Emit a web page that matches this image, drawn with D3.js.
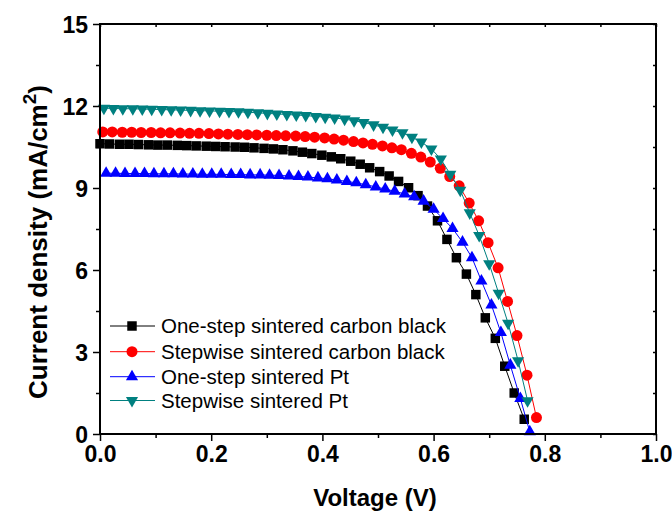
<!DOCTYPE html>
<html><head><meta charset="utf-8">
<script src="https://cdn.jsdelivr.net/npm/d3@7"></script>
<style>body{margin:0;background:#fff}svg{display:block}</style>
</head><body>
<svg id="chart" width="672" height="515"></svg>
<script>
// ---- data ----
const seriesNames = ["One-step sintered carbon black","Stepwise sintered carbon black","One-step sintered Pt","Stepwise sintered Pt"];
const seriesColors = ["#000000","#ff0000","#0000ff","#008080"];

const vOneStepCB = [0.000,0.017,0.035,0.052,0.069,0.087,0.104,0.121,0.139,0.156,0.173,0.191,0.208,0.225,0.243,0.260,0.277,0.295,0.312,0.329,0.347,0.364,0.381,0.399,0.416,0.433,0.451,0.468,0.485,0.503,0.520,0.537,0.555,0.572,0.589,0.607,0.624,0.641,0.659,0.676,0.693,0.711,0.728,0.745,0.763];
const jOneStepCB = [10.62,10.61,10.60,10.60,10.59,10.58,10.57,10.57,10.56,10.55,10.54,10.53,10.52,10.51,10.50,10.49,10.47,10.45,10.43,10.40,10.36,10.31,10.26,10.20,10.14,10.07,9.98,9.87,9.74,9.60,9.44,9.24,9.01,8.72,8.34,7.80,7.12,6.45,5.85,5.10,4.25,3.50,2.48,1.50,0.54];

const vStepwiseCB = [0.005,0.022,0.040,0.057,0.074,0.092,0.109,0.126,0.144,0.161,0.178,0.196,0.213,0.230,0.248,0.265,0.282,0.300,0.317,0.334,0.352,0.369,0.386,0.404,0.421,0.438,0.456,0.473,0.490,0.508,0.525,0.542,0.560,0.577,0.594,0.612,0.629,0.646,0.664,0.681,0.698,0.716,0.733,0.750,0.768,0.785];
const jStepwiseCB = [11.05,11.05,11.04,11.04,11.03,11.03,11.02,11.02,11.01,11.00,11.00,10.99,10.98,10.97,10.96,10.95,10.94,10.93,10.92,10.91,10.90,10.88,10.86,10.83,10.79,10.75,10.70,10.65,10.60,10.54,10.47,10.40,10.27,10.13,9.95,9.72,9.42,9.08,8.45,7.80,7.00,6.08,4.85,3.60,2.15,0.60];

const vOneStepPt = [0.011,0.028,0.045,0.063,0.080,0.097,0.115,0.132,0.149,0.167,0.184,0.201,0.218,0.236,0.253,0.270,0.288,0.305,0.322,0.340,0.357,0.374,0.392,0.409,0.426,0.444,0.461,0.478,0.496,0.513,0.530,0.548,0.565,0.582,0.600,0.617,0.634,0.652,0.669,0.686,0.704,0.721,0.738,0.756,0.773];
const jOneStepPt = [9.54,9.54,9.53,9.53,9.53,9.52,9.52,9.52,9.51,9.51,9.50,9.50,9.50,9.49,9.49,9.48,9.48,9.47,9.46,9.44,9.42,9.40,9.37,9.34,9.29,9.24,9.19,9.12,9.04,8.96,8.88,8.78,8.68,8.52,8.22,7.88,7.52,7.02,6.45,5.60,4.72,3.71,2.52,1.30,0.08];

const vStepwisePt = [0.007,0.024,0.041,0.059,0.076,0.093,0.111,0.128,0.145,0.163,0.180,0.197,0.215,0.232,0.249,0.266,0.284,0.301,0.318,0.336,0.353,0.370,0.388,0.405,0.422,0.440,0.457,0.474,0.492,0.509,0.526,0.544,0.561,0.578,0.596,0.613,0.630,0.648,0.665,0.682,0.700,0.717,0.734,0.752,0.769];
const jStepwisePt = [11.92,11.91,11.90,11.90,11.89,11.88,11.87,11.86,11.85,11.84,11.83,11.82,11.81,11.80,11.79,11.77,11.75,11.73,11.71,11.69,11.67,11.65,11.62,11.59,11.56,11.52,11.46,11.40,11.31,11.22,11.12,11.02,10.86,10.68,10.43,10.06,9.50,8.92,8.09,7.26,6.23,5.15,4.05,2.68,1.22];

const xMajorTicks = [0,0.2,0.4,0.6,0.8,1.0];
const xMinorTicks = [0.1,0.3,0.5,0.7,0.9];
const yMajorTicks = [0,3,6,9,12,15];
const yMinorTicks = [1.5,4.5,7.5,10.5,13.5];

// ---- chart ----
const svg = d3.select("#chart");
const L = 100, R = 656, T = 24, B = 434;
const x = d3.scaleLinear().domain([0,1]).range([L,R]);
const y = d3.scaleLinear().domain([0,15]).range([B,T]);
const font = "'Liberation Sans', Arial, sans-serif";

const series = [
  {v:vOneStepCB, j:jOneStepCB, sym:d3.symbolSquare, size:90, rot:0},
  {v:vStepwiseCB, j:jStepwiseCB, sym:d3.symbolCircle, size:95, rot:0},
  {v:vOneStepPt, j:jOneStepPt, sym:d3.symbolTriangle, size:64, rot:0},
  {v:vStepwisePt, j:jStepwisePt, sym:d3.symbolTriangle, size:64, rot:180}
].map((s,i)=>({...s, name:seriesNames[i], color:seriesColors[i], pts:s.v.map((v,k)=>[v,s.j[k]])}));

const line = d3.line().x(d=>x(d[0])).y(d=>y(d[1]));
series.forEach(s=>{
  const g = svg.append("g");
  g.append("path").attr("d", line(s.pts)).attr("fill","none").attr("stroke",s.color).attr("stroke-width",1);
  g.selectAll("path.m").data(s.pts).enter().append("path").attr("class","m")
    .attr("d", d3.symbol().type(s.sym).size(s.size))
    .attr("transform", d=>`translate(${x(d[0])},${y(d[1])}) rotate(${s.rot})`)
    .attr("fill", s.color);
});

// axes
function styleAxis(g){
  g.select(".domain").remove();
  g.selectAll(".tick line").attr("stroke","#000").attr("stroke-width",1.5);
  g.selectAll("text").attr("font-family",font).attr("font-weight","bold").attr("font-size",23).attr("fill","#000");
}
svg.append("g").attr("transform",`translate(0,${B})`)
  .call(d3.axisBottom(x).tickValues(xMajorTicks).tickFormat(d3.format(".1f")).tickSize(7).tickPadding(5)).call(styleAxis);
svg.append("g").attr("transform",`translate(0,${B})`)
  .call(d3.axisBottom(x).tickValues(xMinorTicks).tickFormat("").tickSize(4)).call(styleAxis);
svg.append("g").attr("transform",`translate(${L},0)`)
  .call(d3.axisLeft(y).tickValues(yMajorTicks).tickFormat(d3.format("d")).tickSize(7).tickPadding(5)).call(styleAxis)
  .selectAll("text").attr("dy","0.36em");
svg.append("g").attr("transform",`translate(${L},0)`)
  .call(d3.axisLeft(y).tickValues(yMinorTicks).tickFormat("").tickSize(4)).call(styleAxis);
svg.append("g").attr("transform",`translate(0,${T})`)
  .call(d3.axisBottom(x).tickValues(xMajorTicks.concat(xMinorTicks)).tickFormat("").tickSize(3)).call(styleAxis);
svg.append("g").attr("transform",`translate(${R},0)`)
  .call(d3.axisLeft(y).tickValues(yMajorTicks.concat(yMinorTicks)).tickFormat("").tickSize(3)).call(styleAxis);

svg.append("rect").attr("x",L).attr("y",T).attr("width",R-L).attr("height",B-T)
  .attr("fill","none").attr("stroke","#000").attr("stroke-width",2);

// titles
svg.append("text").attr("x",(L+R)/2-3).attr("y",506).attr("text-anchor","middle")
  .attr("font-family",font).attr("font-weight","bold").attr("font-size",24).text("Voltage (V)");
const yt = svg.append("text").attr("transform","translate(47,242) rotate(-90)").attr("text-anchor","middle")
  .attr("font-family",font).attr("font-weight","bold").attr("font-size",26);
yt.append("tspan").text("Current density (mA/cm");
yt.append("tspan").attr("font-size",19).attr("dy",-11).text("2");
yt.append("tspan").attr("dy",11).text(")");

// legend
const legY = [326,351.7,376.7,400.5];
series.forEach((s,i)=>{
  const g = svg.append("g").attr("transform",`translate(0,${legY[i]})`);
  g.append("line").attr("x1",110).attr("x2",155).attr("y1",0).attr("y2",0).attr("stroke",s.color).attr("stroke-width",1);
  g.append("path").attr("d",d3.symbol().type(s.sym).size(s.size)).attr("transform",`translate(132,0) rotate(${s.rot})`).attr("fill",s.color);
  g.append("text").attr("x",161).attr("y",0).attr("dy","0.35em").attr("font-family",font).attr("font-size",20.5).text(s.name);
});
</script>
</body></html>
